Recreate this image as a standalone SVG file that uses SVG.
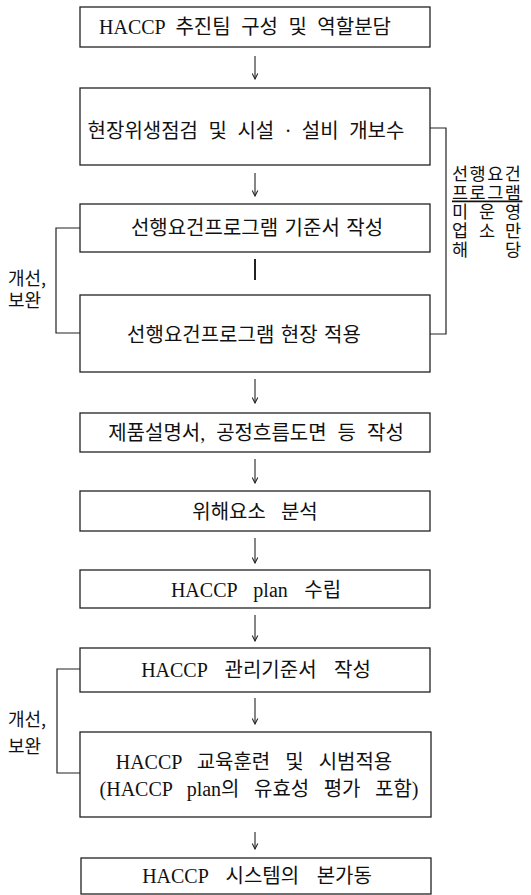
<svg xmlns="http://www.w3.org/2000/svg" width="531" height="895" viewBox="0 0 531 895">
<defs>
<style>
.box{fill:#fff;stroke:#222;stroke-width:1.3}
.t{font-family:"Liberation Serif","Noto Sans CJK KR",serif;font-size:20px;fill:#111;text-anchor:middle;dominant-baseline:central}
.k{font-family:"Noto Sans CJK KR","Noto Sans",sans-serif;font-size:18px;fill:#111;dominant-baseline:central}
.r{font-family:"Noto Sans CJK KR","Noto Sans",sans-serif;font-size:17.5px;fill:#111;dominant-baseline:central}
.c{fill:none;stroke:#222;stroke-width:1.2}
.a{fill:none;stroke:#222;stroke-width:1.1;marker-end:url(#ah)}
</style>
<marker id="ah" viewBox="0 0 10 10" refX="9" refY="5" markerWidth="7" markerHeight="7" markerUnits="userSpaceOnUse" orient="auto">
<path d="M1,1 L9,5 L1,9" fill="none" stroke="#222" stroke-width="1.5"/>
</marker>
</defs>
<rect width="531" height="895" fill="#fff"/>
<g id="n1"><rect class="box" x="80" y="7" width="350" height="40"/><text class="t" x="245" y="27" style="word-spacing:5.5px">HACCP 추진팀 구성 및 역할분담</text></g>
<g id="n2"><rect class="box" x="80" y="88" width="350" height="77"/><text class="t" x="246" y="131" style="word-spacing:5.5px">현장위생점검 및 시설 · 설비 개보수</text></g>
<g id="n3"><rect class="box" x="80" y="204" width="350" height="48"/><text class="t" x="257" y="228" style="word-spacing:1.5px">선행요건프로그램 기준서 작성</text></g>
<g id="n4"><rect class="box" x="80" y="295" width="350" height="77"/><text class="t" x="244" y="335" style="word-spacing:1.5px">선행요건프로그램 현장 적용</text></g>
<g id="n5"><rect class="box" x="80" y="413" width="350" height="39"/><text class="t" x="256" y="433" style="word-spacing:6px">제품설명서, 공정흐름도면 등 작성</text></g>
<g id="n6"><rect class="box" x="80" y="491" width="350" height="40"/><text class="t" x="255" y="512" style="word-spacing:10px">위해요소 분석</text></g>
<g id="n7"><rect class="box" x="80" y="570" width="350" height="38"/><text class="t" x="256" y="590" style="word-spacing:11.5px">HACCP plan 수립</text></g>
<g id="n8"><rect class="box" x="80" y="648" width="350" height="44"/><text class="t" x="256" y="670" style="word-spacing:12.5px">HACCP 관리기준서 작성</text></g>
<g id="n9"><rect class="box" x="80" y="732" width="351" height="85"/><text class="t" x="254" y="762" style="word-spacing:10px">HACCP 교육훈련 및 시범적용</text><text class="t" x="259" y="789" style="word-spacing:9.5px">(HACCP plan의 유효성 평가 포함)</text></g>
<g id="n10"><rect class="box" x="81" y="858" width="350" height="36"/><text class="t" x="257" y="876" style="word-spacing:12.5px">HACCP 시스템의 본가동</text></g>
<g id="labels">
<text class="k" x="8" y="277">개선,</text>
<text class="k" x="8" y="299">보완</text>
<text class="k" x="8" y="718">개선,</text>
<text class="k" x="8" y="745">보완</text>
<text class="r" x="452" y="172" style="letter-spacing:1.5px">선행요건</text>
<text class="r" x="452" y="191" style="letter-spacing:1.5px" text-decoration="underline">프로그램</text>
<text class="r" y="210"><tspan x="452">미</tspan><tspan x="479">운</tspan><tspan x="505">영</tspan></text>
<text class="r" y="229"><tspan x="452">업</tspan><tspan x="479">소</tspan><tspan x="505">만</tspan></text>
<text class="r" y="248"><tspan x="452">해</tspan><tspan x="505">당</tspan></text>
</g>
<g id="connectors">
<line class="a" x1="255" y1="56" x2="255" y2="79"/>
<line class="a" x1="255" y1="173" x2="255" y2="196"/>
<line x1="255" y1="259" x2="255" y2="280" stroke="#222" stroke-width="2"/>
<line class="a" x1="255" y1="379" x2="255" y2="403"/>
<line class="a" x1="255" y1="459" x2="255" y2="483"/>
<line class="a" x1="255" y1="538" x2="255" y2="563"/>
<line class="a" x1="255" y1="615" x2="255" y2="641"/>
<line class="a" x1="255" y1="698" x2="255" y2="724"/>
<line class="a" x1="255" y1="832" x2="255" y2="849"/>
<polyline class="c" points="430,128 446,128 446,334 430,334"/>
<polyline class="c" points="80,228 56,228 56,333 80,333"/>
<polyline class="c" points="80,669 57,669 57,773 80,773"/>
</g>
</svg>
